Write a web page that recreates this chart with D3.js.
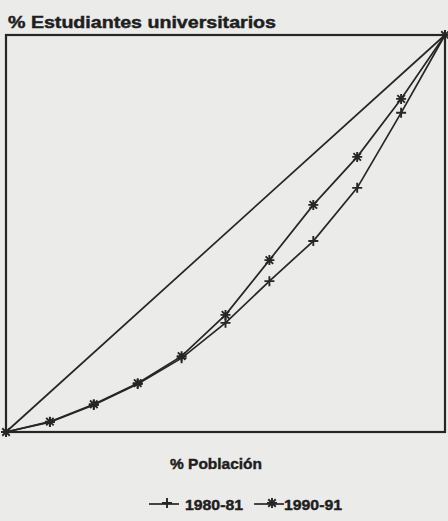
<!DOCTYPE html>
<html><head><meta charset="utf-8">
<script src="https://cdn.jsdelivr.net/npm/d3@7"></script>
<style>
html,body{margin:0;padding:0;background:#ebebea;}
svg{display:block;}
text{font-family:"Liberation Sans",Arial,sans-serif;font-weight:bold;fill:#1e1e1e;stroke:#1e1e1e;stroke-width:0.45px;}
</style></head>
<body>
<script>
const poblacion = [0,10,20,30,40,50,60,70,80,90,100];
const est1980 = [0,2.5,6.8,12.1,18.6,27.5,38.0,48.1,61.5,80.4,100];
const est1990 = [0,2.6,7.0,12.3,19.1,29.5,43.3,57.2,69.3,83.9,100];
const seriesNames = ["1980-81","1990-91"];
const yTitle = "% Estudiantes universitarios";
const xTitle = "% Población";

const W=448,H=521;
const m={l:6,r:3,t:35,b:89};
const svg=d3.select("body").append("svg").attr("width",W).attr("height",H);
svg.append("rect").attr("width",W).attr("height",H).attr("fill","#ebebea");
const x=d3.scaleLinear().domain([0,100]).range([m.l,W-m.r]);
const y=d3.scaleLinear().domain([0,100]).range([H-m.b,m.t]);
const ink="#262626";

svg.append("rect").attr("x",x(0)).attr("y",y(100)).attr("width",x(100)-x(0)).attr("height",y(0)-y(100))
  .attr("fill","none").attr("stroke",ink).attr("stroke-width",2.2);

// equality line
svg.append("line").attr("x1",x(0)).attr("y1",y(0)).attr("x2",x(100)).attr("y2",y(100))
  .attr("stroke",ink).attr("stroke-width",1.7);

const line=d3.line().x(d=>x(d[0])).y(d=>y(d[1]));
const data=[est1980,est1990].map(s=>poblacion.map((p,i)=>[p,s[i]]));
data.forEach(d=>{
  svg.append("path").attr("d",line(d)).attr("fill","none").attr("stroke",ink).attr("stroke-width",1.7);
});

function plus(g,cx,cy,s){
  g.append("path").attr("d",`M${cx-s},${cy}H${cx+s}M${cx},${cy-s}V${cy+s}`).attr("stroke",ink).attr("stroke-width",1.9);
}
function star(g,cx,cy,s){
  const k=s*0.75;
  g.append("path").attr("d",`M${cx-s},${cy}H${cx+s}M${cx},${cy-s}V${cy+s}M${cx-k},${cy-k}L${cx+k},${cy+k}M${cx-k},${cy+k}L${cx+k},${cy-k}`).attr("stroke",ink).attr("stroke-width",1.9);
}
const mk=[plus,star];
data.forEach((d,j)=>d.forEach(p=>mk[j](svg,x(p[0]),y(p[1]),5)));

svg.append("text").attr("x",8).attr("y",28).attr("font-size",16).attr("textLength",268).attr("lengthAdjust","spacingAndGlyphs").text(yTitle);
svg.append("text").attr("x",216).attr("y",469).attr("font-size",15).attr("text-anchor","middle").attr("textLength",92).attr("lengthAdjust","spacingAndGlyphs").text(xTitle);

// legend
const ly=504;
const legX=[149,254];
const textX=[185,284];
seriesNames.forEach((n,j)=>{
  svg.append("line").attr("x1",legX[j]).attr("x2",legX[j]+30).attr("y1",ly).attr("y2",ly).attr("stroke",ink).attr("stroke-width",1.7);
  mk[j](svg,legX[j]+18,ly-1,5);
  svg.append("text").attr("x",textX[j]).attr("y",ly+6).attr("font-size",15).attr("textLength",58).attr("lengthAdjust","spacingAndGlyphs").text(n);
});
</script>
</body></html>
